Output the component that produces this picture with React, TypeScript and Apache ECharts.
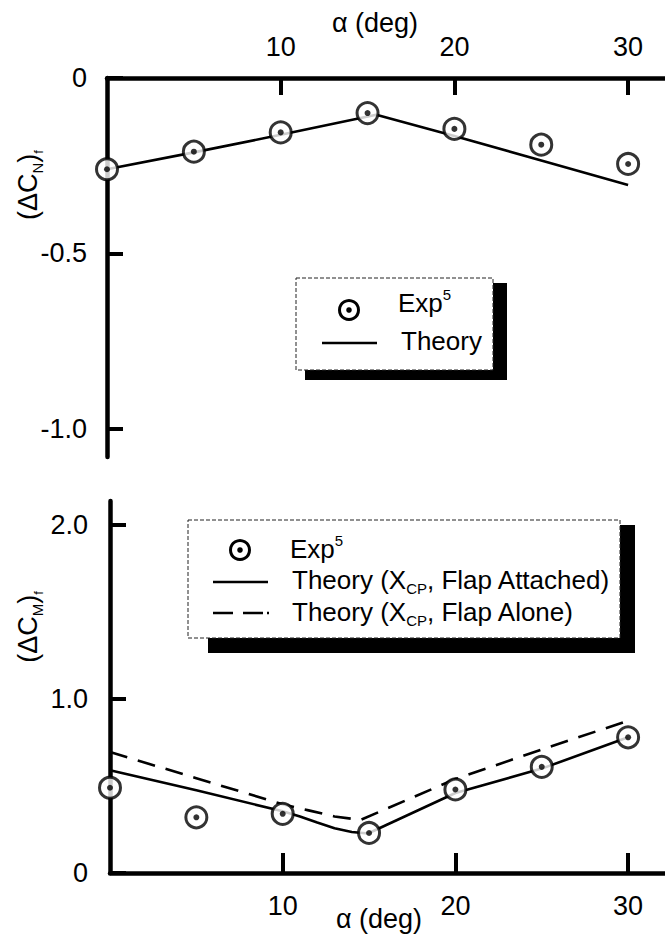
import { useEffect, useRef } from 'react';
import * as echarts from 'echarts';

// Flap normal-force increment vs angle of attack
const alpha = [0, 5, 10, 15, 20, 25, 30];
const normalExp = [-0.26, -0.21, -0.155, -0.1, -0.145, -0.19, -0.245];
const normalTheoryAlpha = [0, 5, 10, 15.5, 20, 25, 30];
const normalTheory = [-0.26, -0.212, -0.162, -0.105, -0.165, -0.235, -0.305];

// Flap moment increment vs angle of attack
const momentExp = [0.49, 0.32, 0.34, 0.23, 0.48, 0.61, 0.78];
const attachedAlpha = [0, 5, 10, 11, 12, 13, 14, 14.8, 15, 20, 25, 30];
const attachedTheory = [0.59, 0.475, 0.355, 0.325, 0.29, 0.257, 0.236, 0.228, 0.23, 0.46, 0.6, 0.78];
const aloneAlpha = [0, 5, 10, 11.5, 13, 14.5, 20, 25, 30];
const aloneTheory = [0.695, 0.545, 0.395, 0.36, 0.325, 0.305, 0.54, 0.71, 0.875];

// Tick positions
const alphaTicks = [10, 20, 30];
const normalTicks = [0, -0.5, -1.0];
const momentTicks = [0, 1.0, 2.0];

const FONT = "'Liberation Sans', Arial, Helvetica, sans-serif";
const INK = '#000';

const pairs = (xs: number[], ys: number[]) => xs.map((x, i) => [x, ys[i]]);
const fmtY = (v: number) => (v === 0 ? '0' : v.toFixed(1));
const fmtX = (v: number) => String(Math.round(v));

const richStyles = {
  sub: { fontFamily: FONT, fontSize: 15, lineHeight: 15, verticalAlign: 'bottom', fill: INK },
  subf: { fontFamily: FONT, fontSize: 13, lineHeight: 13, verticalAlign: 'bottom', fill: INK },
  sup: { fontFamily: FONT, fontSize: 15, lineHeight: 15, verticalAlign: 'top', fill: INK },
};

function text(x: number, y: number, str: string, opts: any = {}) {
  return {
    type: 'text',
    x,
    y,
    z: 110,
    rotation: opts.rotation || 0,
    style: {
      text: str,
      fontFamily: FONT,
      fontSize: opts.fontSize || 26,
      lineHeight: opts.lineHeight || 32,
      fill: INK,
      align: opts.align || 'left',
      verticalAlign: 'middle',
      rich: richStyles,
    },
  };
}

function expMarker(cx: number, cy: number) {
  return [
    { type: 'circle', z: 110, shape: { cx, cy, r: 9.5 }, style: { fill: '#fff', stroke: INK, lineWidth: 3 } },
    { type: 'circle', z: 111, shape: { cx, cy, r: 2.8 }, style: { fill: INK } },
  ];
}

function seg(x1: number, x2: number, y: number, dash?: number[]) {
  return {
    type: 'line',
    z: 110,
    shape: { x1, y1: y, x2, y2: y },
    style: { stroke: INK, lineWidth: 2.6, lineDash: dash || null },
  };
}

function legendBox(x: number, y: number, w: number, h: number, sx: number, sy: number, sw: number, sh: number) {
  return [
    { type: 'rect', z: 100, shape: { x: sx, y: sy, width: sw, height: sh }, style: { fill: INK } },
    {
      type: 'rect',
      z: 101,
      shape: { x, y, width: w, height: h },
      style: { fill: '#fff', stroke: '#222', lineWidth: 1, lineDash: [4, 2] },
    },
  ];
}

function axis(gridIndex: number, min: number, max: number, ticks: number[], tickLen: number, margin: number, formatter: (v: number) => string, extra: any = {}) {
  return {
    type: 'value',
    gridIndex,
    min,
    max,
    splitLine: { show: false },
    axisLine: { show: true, onZero: false, lineStyle: { color: INK, width: 4.5 } },
    axisTick: {
      show: true,
      inside: true,
      length: tickLen,
      customValues: ticks,
      lineStyle: { color: INK, width: 4 },
    },
    axisLabel: {
      color: INK,
      fontFamily: FONT,
      fontSize: 27,
      margin,
      customValues: ticks,
      formatter,
    },
    ...extra,
  };
}

function ringSeries(idx: number, data: number[][]) {
  return [
    {
      type: 'scatter',
      xAxisIndex: idx,
      yAxisIndex: idx,
      data,
      symbol: 'circle',
      symbolSize: 21,
      clip: false,
      z: 5,
      itemStyle: { color: '#fff', borderColor: INK, borderWidth: 3 },
    },
    {
      type: 'scatter',
      xAxisIndex: idx,
      yAxisIndex: idx,
      data,
      symbol: 'circle',
      symbolSize: 6,
      clip: false,
      z: 6,
      itemStyle: { color: INK },
    },
  ];
}

// px per degree of alpha in each panel; grids extend well past the page edge
const UPPER_W = 900;
const LOWER_W = 900;

export default function App() {
  const ref = useRef<HTMLDivElement>(null);

  useEffect(() => {
    if (!ref.current) return;
    const chart = echarts.init(ref.current, undefined, { renderer: 'svg' });

    const option: any = {
      animation: false,
      backgroundColor: '#fff',
      grid: [
        { left: 107, top: 78, width: UPPER_W, height: 379, outerBoundsMode: 'none' },
        { left: 110, top: 501, width: LOWER_W, height: 372, outerBoundsMode: 'none' },
      ],
      xAxis: [
        axis(0, 0, UPPER_W / 17.37, alphaTicks, 17, 18, fmtX, { position: 'top' }),
        axis(1, 0, LOWER_W / 17.27, alphaTicks, 20, 19, fmtX, { position: 'bottom' }),
      ],
      yAxis: [
        axis(0, -1.08, 0, normalTicks, 16, 20, fmtY),
        axis(1, 0, 2.138, momentTicks, 16, 22, fmtY),
      ],
      series: [
        {
          type: 'line',
          xAxisIndex: 0,
          yAxisIndex: 0,
          data: pairs(normalTheoryAlpha, normalTheory),
          symbol: 'none',
          lineStyle: { color: INK, width: 2.6 },
          z: 3,
        },
        ...ringSeries(0, pairs(alpha, normalExp)),
        {
          type: 'line',
          xAxisIndex: 1,
          yAxisIndex: 1,
          data: pairs(aloneAlpha, aloneTheory),
          symbol: 'none',
          lineStyle: { color: INK, width: 2.6, type: [18, 11] },
          z: 3,
        },
        {
          type: 'line',
          xAxisIndex: 1,
          yAxisIndex: 1,
          data: pairs(attachedAlpha, attachedTheory),
          symbol: 'none',
          lineStyle: { color: INK, width: 2.6 },
          z: 3,
        },
        ...ringSeries(1, pairs(alpha, momentExp)),
      ],
      graphic: [
        // axis titles
        text(375, 23, 'α (deg)', { align: 'center', fontSize: 27 }),
        text(379, 919, 'α (deg)', { align: 'center', fontSize: 27 }),
        text(28, 185, '(ΔC{sub|N}){subf|f}', { align: 'center', rotation: Math.PI / 2, fontSize: 27, lineHeight: 34 }),
        text(28, 627, '(ΔC{sub|M}){subf|f}', { align: 'center', rotation: Math.PI / 2, fontSize: 27, lineHeight: 34 }),

        // upper legend
        ...legendBox(296, 278, 197, 92, 305, 283, 202, 97),
        ...expMarker(349, 310),
        text(398, 303, 'Exp{sup|5}'),
        seg(322, 377, 343),
        text(401, 341, 'Theory'),

        // lower legend
        ...legendBox(188, 520, 432, 118, 208, 525, 427, 128),
        ...expMarker(240, 550),
        text(290, 549, 'Exp{sup|5}'),
        seg(213, 268, 582),
        text(292, 580, 'Theory (X{sub|CP}, Flap Attached)'),
        seg(213, 269, 613, [20, 10, 20, 4, 2, 100]),
        text(292, 612, 'Theory (X{sub|CP}, Flap Alone)'),
      ],
    };

    chart.setOption(option);
    return () => chart.dispose();
  }, []);

  return (
    <div
      ref={ref}
      style={{ position: 'fixed', left: 0, top: 0, width: 665, height: 939, background: '#fff' }}
    />
  );
}
